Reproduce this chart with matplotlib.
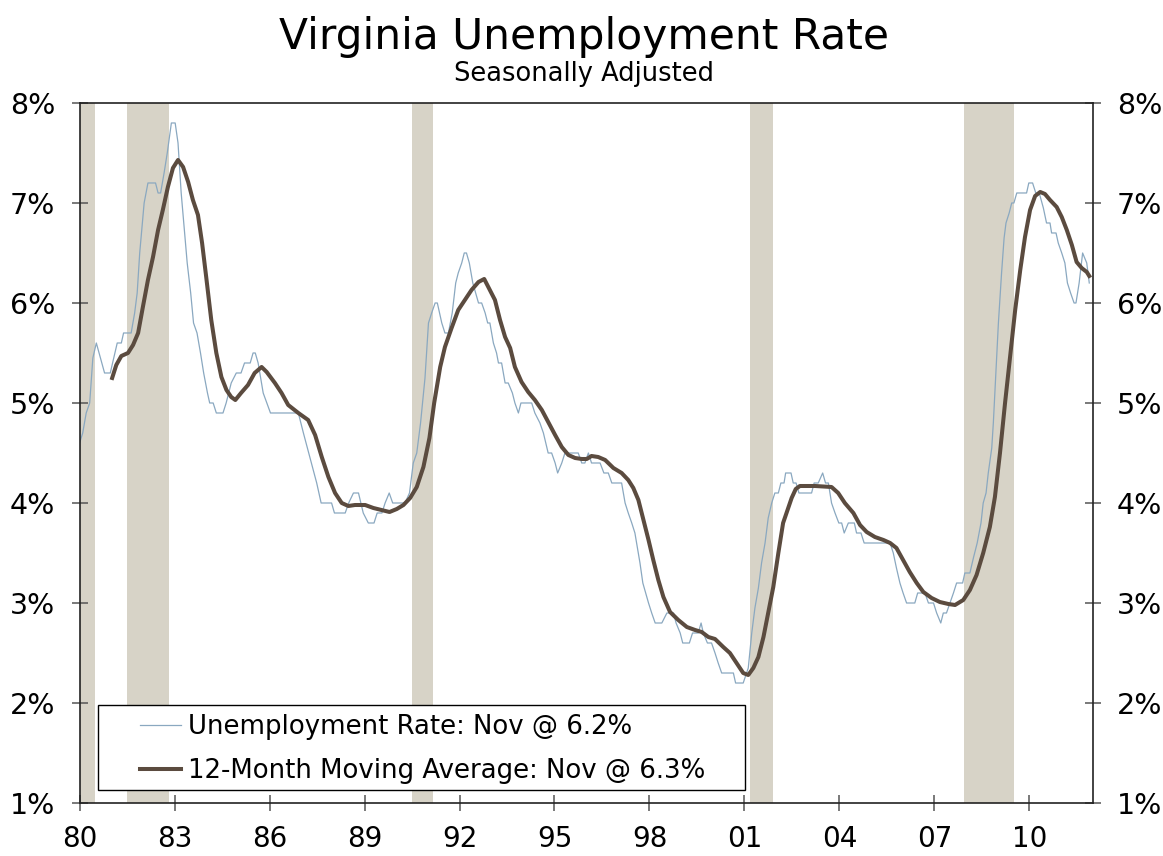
import matplotlib
matplotlib.use("Agg")
import matplotlib.pyplot as plt
from matplotlib.patches import Rectangle

# Virginia unemployment rate, seasonally adjusted
rate_t = [1980.0, 1980.1, 1980.21, 1980.32, 1980.42, 1980.53, 1980.79, 1980.97, 1981.08, 1981.19,
          1981.32, 1981.39, 1981.63, 1981.74, 1981.82, 1981.9, 1981.97, 1982.04, 1982.16, 1982.4,
          1982.48, 1982.56, 1982.67, 1982.77, 1982.9, 1983.02, 1983.11, 1983.21, 1983.32, 1983.4,
          1983.51, 1983.6, 1983.71, 1983.82, 1983.92, 1984.04, 1984.11, 1984.22, 1984.32, 1984.53,
          1984.63, 1984.79, 1984.95, 1985.1, 1985.21, 1985.39, 1985.48, 1985.55, 1985.64, 1985.8,
          1986.03, 1986.91, 1987.07, 1987.28, 1987.49, 1987.63, 1987.96, 1988.05, 1988.39, 1988.5,
          1988.65, 1988.81, 1988.96, 1989.12, 1989.3, 1989.4, 1989.55, 1989.65, 1989.78, 1989.89,
          1990.28, 1990.42, 1990.54, 1990.65, 1990.77, 1990.91, 1991.02, 1991.12, 1991.23, 1991.3,
          1991.44, 1991.54, 1991.65, 1991.77, 1991.88, 1991.96, 1992.07, 1992.15, 1992.22, 1992.31,
          1992.42, 1992.51, 1992.6, 1992.7, 1992.81, 1992.89, 1992.96, 1993.07, 1993.17, 1993.23,
          1993.33, 1993.44, 1993.54, 1993.67, 1993.75, 1993.86, 1993.94, 1994.28, 1994.38, 1994.54,
          1994.65, 1994.8, 1994.91, 1995.02, 1995.1, 1995.23, 1995.33, 1995.75, 1995.86, 1995.96,
          1996.07, 1996.17, 1996.44, 1996.56, 1996.7, 1996.81, 1997.12, 1997.23, 1997.33, 1997.44,
          1997.54, 1997.62, 1997.7, 1997.79, 1997.88, 1997.97, 1998.07, 1998.18, 1998.39, 1998.55,
          1998.76, 1998.84, 1998.97, 1999.05, 1999.26, 1999.36, 1999.54, 1999.63, 1999.7, 1999.83,
          1999.96, 2000.07, 2000.17, 2000.28, 2000.65, 2000.72, 2000.96, 2001.12, 2001.23, 2001.33,
          2001.44, 2001.54, 2001.65, 2001.75, 2001.86, 2001.96, 2002.07, 2002.15, 2002.25, 2002.3,
          2002.47, 2002.54, 2002.63, 2002.72, 2003.12, 2003.2, 2003.33, 2003.47, 2003.56, 2003.65,
          2003.75, 2003.86, 2003.98, 2004.07, 2004.15, 2004.28, 2004.47, 2004.54, 2004.68, 2004.78,
          2005.6, 2005.7, 2005.8, 2005.91, 2006.01, 2006.12, 2006.38, 2006.47, 2006.7, 2006.81,
          2006.97, 2007.07, 2007.2, 2007.28, 2007.38, 2007.49, 2007.6, 2007.7, 2007.89, 2007.96,
          2008.12, 2008.23, 2008.35, 2008.47, 2008.54, 2008.63, 2008.7, 2008.81, 2008.86, 2008.94,
          2009.02, 2009.12, 2009.2, 2009.26, 2009.36, 2009.44, 2009.51, 2009.6, 2009.91, 2009.98,
          2010.1, 2010.2, 2010.31, 2010.44, 2010.54, 2010.65, 2010.7, 2010.84, 2010.91, 2011.02,
          2011.12, 2011.2, 2011.3, 2011.41, 2011.47, 2011.57, 2011.68, 2011.81, 2011.89]
rate_v = [4.6, 4.7, 4.9, 5.0, 5.45, 5.6, 5.3, 5.3, 5.45, 5.6,
          5.6, 5.7, 5.7, 5.9, 6.1, 6.5, 6.75, 7.0, 7.2, 7.2,
          7.1, 7.1, 7.3, 7.5, 7.8, 7.8, 7.6, 7.1, 6.7, 6.4,
          6.1, 5.8, 5.7, 5.5, 5.3, 5.1, 5.0, 5.0, 4.9, 4.9,
          5.0, 5.2, 5.3, 5.3, 5.4, 5.4, 5.5, 5.5, 5.4, 5.1,
          4.9, 4.9, 4.7, 4.45, 4.2, 4.0, 4.0, 3.9, 3.9, 4.0,
          4.1, 4.1, 3.9, 3.8, 3.8, 3.9, 3.9, 4.0, 4.1, 4.0,
          4.0, 4.1, 4.4, 4.5, 4.8, 5.25, 5.8, 5.9, 6.0, 6.0,
          5.8, 5.7, 5.7, 5.9, 6.2, 6.3, 6.4, 6.5, 6.5, 6.4,
          6.2, 6.1, 6.0, 6.0, 5.9, 5.8, 5.8, 5.6, 5.5, 5.4,
          5.4, 5.2, 5.2, 5.1, 5.0, 4.9, 5.0, 5.0, 4.9, 4.8,
          4.7, 4.5, 4.5, 4.4, 4.3, 4.4, 4.5, 4.5, 4.4, 4.4,
          4.5, 4.4, 4.4, 4.3, 4.3, 4.2, 4.2, 4.0, 3.9, 3.8,
          3.7, 3.55, 3.4, 3.2, 3.1, 3.0, 2.9, 2.8, 2.8, 2.9,
          2.9, 2.8, 2.7, 2.6, 2.6, 2.7, 2.7, 2.8, 2.7, 2.6,
          2.6, 2.5, 2.4, 2.3, 2.3, 2.2, 2.2, 2.35, 2.7, 2.95,
          3.15, 3.4, 3.6, 3.85, 4.0, 4.1, 4.1, 4.2, 4.2, 4.3,
          4.3, 4.2, 4.2, 4.1, 4.1, 4.2, 4.2, 4.3, 4.2, 4.2,
          4.0, 3.9, 3.8, 3.8, 3.7, 3.8, 3.8, 3.7, 3.7, 3.6,
          3.6, 3.5, 3.35, 3.2, 3.1, 3.0, 3.0, 3.1, 3.1, 3.0,
          3.0, 2.9, 2.8, 2.9, 2.9, 3.0, 3.1, 3.2, 3.2, 3.3,
          3.3, 3.45, 3.6, 3.8, 4.0, 4.1, 4.3, 4.55, 4.8, 5.3,
          5.8, 6.3, 6.65, 6.8, 6.9, 7.0, 7.0, 7.1, 7.1, 7.2,
          7.2, 7.1, 7.1, 6.95, 6.8, 6.8, 6.7, 6.7, 6.6, 6.5,
          6.4, 6.2, 6.1, 6.0, 6.0, 6.2, 6.5, 6.4, 6.2]

# 12-month moving average
ma_t = [1981.03, 1981.16, 1981.32, 1981.53, 1981.69, 1981.85, 1982.0, 1982.16, 1982.32, 1982.48,
        1982.63, 1982.79, 1982.95, 1983.11, 1983.27, 1983.43, 1983.58, 1983.74, 1983.87, 1984.0,
        1984.16, 1984.32, 1984.48, 1984.64, 1984.79, 1984.92, 1985.1, 1985.32, 1985.53, 1985.75,
        1985.91, 1986.17, 1986.38, 1986.59, 1986.91, 1987.22, 1987.44, 1987.65, 1987.86, 1988.07,
        1988.28, 1988.49, 1988.7, 1989.02, 1989.28, 1989.54, 1989.79, 1990.02, 1990.23, 1990.44,
        1990.65, 1990.86, 1991.05, 1991.2, 1991.39, 1991.54, 1991.75, 1991.96, 1992.17, 1992.38,
        1992.6, 1992.78, 1992.91, 1993.12, 1993.28, 1993.44, 1993.6, 1993.75, 1993.96, 1994.17,
        1994.38, 1994.6, 1994.8, 1995.02, 1995.23, 1995.44, 1995.65, 1995.86, 1996.02, 1996.17,
        1996.38, 1996.6, 1996.86, 1997.12, 1997.33, 1997.49, 1997.65, 1997.81, 1997.97, 1998.12,
        1998.28, 1998.44, 1998.65, 1998.91, 1999.18, 1999.44, 1999.65, 1999.86, 2000.07, 2000.33,
        2000.54, 2000.75, 2000.96, 2001.12, 2001.28, 2001.44, 2001.6, 2001.75, 2001.91, 2002.07,
        2002.22, 2002.36, 2002.49, 2002.62, 2002.75, 2003.23, 2003.75, 2003.96, 2004.17, 2004.44,
        2004.65, 2004.86, 2005.12, 2005.39, 2005.6, 2005.8, 2006.01, 2006.22, 2006.44, 2006.65,
        2006.91, 2007.17, 2007.44, 2007.65, 2007.91, 2008.12, 2008.33, 2008.54, 2008.75, 2008.91,
        2009.07, 2009.23, 2009.39, 2009.55, 2009.71, 2009.86, 2010.02, 2010.18, 2010.34, 2010.49,
        2010.65, 2010.86, 2011.02, 2011.18, 2011.34, 2011.49, 2011.65, 2011.81, 2011.89]
ma_v = [5.25, 5.38, 5.47, 5.5, 5.58, 5.7, 5.96, 6.23, 6.46, 6.73,
        6.93, 7.16, 7.35, 7.43, 7.36, 7.21, 7.03, 6.88, 6.6, 6.26,
        5.83, 5.5, 5.26, 5.13, 5.06, 5.03, 5.1, 5.18, 5.3, 5.36,
        5.31, 5.2, 5.1, 4.98, 4.9, 4.83, 4.68, 4.46, 4.26, 4.1,
        4.0, 3.97, 3.98, 3.98, 3.95, 3.93, 3.91, 3.94, 3.98, 4.05,
        4.16, 4.36, 4.65, 5.0, 5.36, 5.56, 5.75, 5.93, 6.03, 6.13,
        6.21, 6.24, 6.16, 6.03, 5.83, 5.66, 5.55, 5.36, 5.21, 5.11,
        5.03, 4.93, 4.81, 4.68, 4.56, 4.48, 4.45, 4.44, 4.44, 4.47,
        4.46, 4.43, 4.35, 4.3, 4.23, 4.15, 4.03, 3.83, 3.63, 3.43,
        3.23, 3.06, 2.91, 2.83, 2.76, 2.73, 2.71, 2.66, 2.64, 2.56,
        2.5, 2.4, 2.3, 2.28, 2.35, 2.46, 2.66, 2.9, 3.16, 3.5,
        3.8, 3.93, 4.05, 4.14, 4.17, 4.17, 4.16, 4.1, 4.0, 3.9,
        3.78, 3.71, 3.66, 3.63, 3.6, 3.55, 3.43, 3.31, 3.2, 3.11,
        3.05, 3.01, 2.99, 2.98, 3.03, 3.13, 3.28, 3.5, 3.76, 4.06,
        4.5, 5.0, 5.46, 5.93, 6.33, 6.66, 6.93, 7.07, 7.11, 7.09,
        7.03, 6.96, 6.86, 6.73, 6.58, 6.41, 6.35, 6.31, 6.27]

# recessions (start, end)
recessions = [(1980.0, 1980.5), (1981.5, 1982.83), (1990.5, 1991.17),
              (2001.17, 2001.9), (2007.92, 2009.5)]

year_ticks = [1980, 1983, 1986, 1989, 1992, 1995, 1998, 2001, 2004, 2007, 2010]
year_labels = ['80', '83', '86', '89', '92', '95', '98', '01', '04', '07', '10']
pct_ticks = [1, 2, 3, 4, 5, 6, 7, 8]

plt.rcParams['font.family'] = ['DejaVu Sans']

fig = plt.figure(figsize=(11.63, 8.56), dpi=100)
ax = fig.add_axes([0.0684, 0.0619, 0.8712, 0.8178])

for start, end in recessions:
    ax.axvspan(start, end, color='#d7d3c7', lw=0, zorder=0)

ax.plot(rate_t, rate_v, color='#8aa8c0', lw=0.9, zorder=2,
        label='Unemployment Rate: Nov @ 6.2%')
ax.plot(ma_t, ma_v, color='#5b4b3f', lw=2.9, zorder=3,
        label='12-Month Moving Average: Nov @ 6.3%')

ax.set_xlim(1980, 2012)
ax.set_ylim(1, 8)
ax.set_xticks(year_ticks)
ax.set_xticklabels(year_labels)
ax.set_yticks(pct_ticks)
ax.set_yticklabels([f'{p}%' for p in pct_ticks])

ax.tick_params(axis='both', direction='inout', length=12, width=1.1,
               color='#555555', labelsize=20.5, labelcolor='black')
ax.tick_params(axis='y', right=True, labelright=True, pad=11.5)
ax.tick_params(axis='x', pad=10, labelsize=20)
for side in ['left', 'right', 'bottom', 'top']:
    ax.spines[side].set_color('#222222')
    ax.spines[side].set_linewidth(1.2)

# legend box drawn separately so the padding matches the original
ax.add_patch(Rectangle((0.0182, 0.0186), 0.639, 0.1214, transform=ax.transAxes,
                       facecolor='white', edgecolor='black', lw=1.0, zorder=4))
leg = ax.legend(loc='lower left', bbox_to_anchor=(0.06, 0.027), fontsize=18.7,
                frameon=False, handlelength=1.55, handletextpad=0.3,
                borderpad=0.0, labelspacing=0.69, borderaxespad=0)
leg.set_zorder(5)

fig.text(0.502, 0.957, 'Virginia Unemployment Rate', ha='center', va='center',
         fontsize=30.5)
fig.text(0.502, 0.914, 'Seasonally Adjusted', ha='center', va='center',
         fontsize=18.5)

fig.savefig('out.png', dpi=100)
